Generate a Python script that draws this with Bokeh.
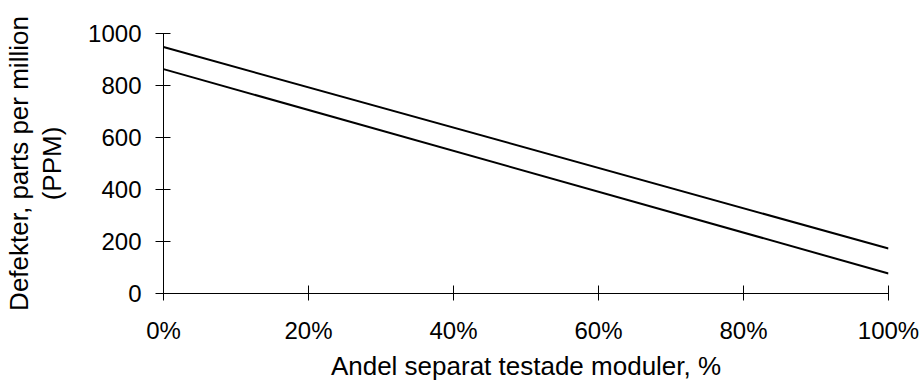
from bokeh.plotting import figure
from bokeh.models import Range1d, FixedTicker, NumeralTickFormatter
from bokeh.embed import file_html
from bokeh.resources import INLINE

share = [0.0, 1.0]
upper_ppm = [948, 173]
lower_ppm = [863, 77]
x_ticks = [0, 0.2, 0.4, 0.6, 0.8, 1.0]
y_ticks = [0, 200, 400, 600, 800, 1000]

FONT = "Liberation Sans"

p = figure(width=923, height=385, output_backend="svg", toolbar_location=None,
           x_range=Range1d(0, 1), y_range=Range1d(0, 1000),
           min_border_left=163, min_border_right=35, min_border_top=33, min_border_bottom=92)
p.outline_line_color = None
p.xgrid.visible = False
p.ygrid.visible = False

p.line(share, upper_ppm, line_color="black", line_width=2)
p.line(share, lower_ppm, line_color="black", line_width=2)

for ax in (p.xaxis[0], p.yaxis[0]):
    ax.axis_line_color = "black"
    ax.major_tick_line_color = "black"
    ax.minor_tick_line_color = None
    ax.major_label_text_font = FONT
    ax.major_label_text_font_size = "24px"
    ax.major_label_text_color = "black"
    ax.axis_label_text_font = FONT
    ax.axis_label_text_font_size = "26px"
    ax.axis_label_text_font_style = "normal"
    ax.axis_label_text_color = "black"

p.xaxis.major_tick_in = 8
p.xaxis.major_tick_out = 7
p.xaxis.ticker = FixedTicker(ticks=x_ticks)
p.xaxis.formatter = NumeralTickFormatter(format="0%")
p.xaxis.major_label_standoff = 16
p.xaxis.axis_label = "Andel separat testade moduler, %"
p.xaxis.axis_label_standoff = 4

p.yaxis.major_tick_in = 7
p.yaxis.major_tick_out = 8
p.yaxis.ticker = FixedTicker(ticks=y_ticks)
p.yaxis.major_label_standoff = 14
p.yaxis.axis_label = "Defekter, parts per million\n(PPM)"
p.yaxis.axis_label_standoff = 18
p.yaxis.axis_label_text_line_height = 1.12

open("out.html", "w").write(file_html(p, INLINE))
